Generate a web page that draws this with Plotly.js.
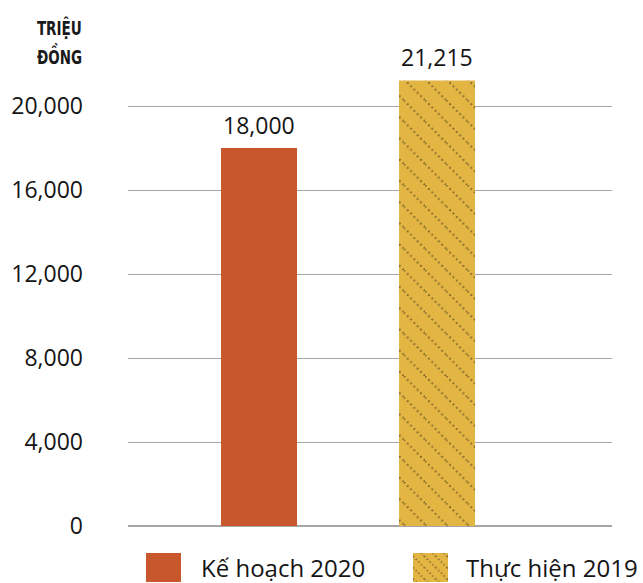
<!DOCTYPE html>
<html>
<head>
<meta charset="utf-8">
<script src="https://cdn.plot.ly/plotly-3.0.1.min.js"></script>
<style>html,body{margin:0;padding:0;background:#fff;}</style>
</head>
<body>
<div id="chart" style="width:643px;height:583px;"></div>
<script>
const seriesNames = ["Kế hoạch 2020", "Thực hiện 2019"];
const seriesValues = [18000, 21215];
const valueLabels = ["18,000", "21,215"];
const tickValues = [0, 4000, 8000, 12000, 16000, 20000];
const tickLabels = ["0", "4,000", "8,000", "12,000", "16,000", "20,000"];
const axisTitleLines = ["TRIỆU", "ĐỒNG"];
const colors = ["#c9572c", "#e3b543"];

const FONT = "'Open Sans', 'Noto Sans', sans-serif";
const TITLE_FONT = "'DejaVu Sans Condensed', 'Liberation Sans Narrow', 'DejaVu Sans', sans-serif";

const traces = seriesNames.map((name, i) => ({
  type: "bar",
  name: name,
  x: [i],
  y: [seriesValues[i]],
  width: 0.427,
  marker: i === 0
    ? {color: colors[i], line: {width: 0}}
    : {color: colors[i], line: {width: 0},
       pattern: {shape: "\\", fgcolor: "#111111", bgcolor: colors[i], size: 15, solidity: 0.12, fillmode: "overlay"}},
  hoverinfo: "skip"
}));

const valueAnnotations = seriesValues.map((v, i) => ({
  xref: "x", yref: "y", x: i, y: v, xanchor: "center", yanchor: "bottom", yshift: 5,
  text: valueLabels[i], showarrow: false,
  font: {family: FONT, size: 23, color: "#151515"}
}));

const titleAnnotations = axisTitleLines.map((t, j) => ({
  xref: "paper", yref: "paper", x: -0.2045, y: [1.116, 1.053][j], xanchor: "left", yanchor: "middle",
  text: "<b>" + t + "</b>", showarrow: false,
  font: {family: TITLE_FONT, size: 19, color: "#1a1a1a"}
}));

const layout = {
  width: 643, height: 583,
  margin: {l: 128, r: 31, t: 79, b: 57, autoexpand: false},
  paper_bgcolor: "#fff", plot_bgcolor: "#fff",
  barmode: "overlay",
  showlegend: true,
  legend: {orientation: "h", x: 0.0, xanchor: "left", y: -0.06, yanchor: "top",
           font: {family: FONT, size: 24, color: "#151515"}, itemwidth: 40, tracegroupgap: 0},
  xaxis: {range: [-0.736, 1.983], showticklabels: false, showgrid: false, zeroline: false, showline: false, ticks: ""},
  yaxis: {range: [0, 21286], tickvals: tickValues, ticktext: tickLabels,
          showgrid: true, gridcolor: "#a6a6a6", gridwidth: 1,
          zeroline: true, zerolinecolor: "#a6a6a6", zerolinewidth: 2,
          showline: false, ticks: "", ticklabelstandoff: 44,
          tickfont: {family: FONT, size: 23, color: "#151515"}},
  annotations: valueAnnotations.concat(titleAnnotations)
};

Plotly.newPlot("chart", traces, layout, {displayModeBar: false, staticPlot: true}).then(gd => {
  // dotted diagonal hatch like the reference
  document.querySelectorAll("pattern path").forEach(p => {
    p.style.strokeDasharray = "1.7 3";
    p.style.strokeWidth = "1.9px";
  });
  // condensed axis title: squeeze each line to the reference width
  gd.querySelectorAll("g.annotation text.annotation-text").forEach(t => {
    const s = t.textContent;
    if (axisTitleLines.indexOf(s) >= 0) {
      const w = t.getComputedTextLength();
      const target = 45;
      if (w > target) {
        t.setAttribute("textLength", target);
        t.setAttribute("lengthAdjust", "spacingAndGlyphs");
        t.querySelectorAll("tspan").forEach(ts => {
          ts.setAttribute("textLength", target);
          ts.setAttribute("lengthAdjust", "spacingAndGlyphs");
        });
      }
    }
  });
  // enlarge legend swatches and place entries like the reference
  const legend = gd.querySelector("g.legend");
  if (!legend) return;
  const sb = legend.querySelector(".scrollbox");
  if (sb) sb.removeAttribute("clip-path");
  const m = /translate\(([-\d.]+)[ ,]+([-\d.]+)\)/.exec(legend.getAttribute("transform") || "");
  const lx = m ? parseFloat(m[1]) : 0, ly = m ? parseFloat(m[2]) : 0;
  const swatchLeft = [146, 413], textLeft = [201, 466], cy = 567.5;
  legend.querySelectorAll("g.traces").forEach((g, i) => {
    g.setAttribute("transform", `translate(${swatchLeft[i] - lx},${cy - ly})`);
    const p = g.querySelector(".legendpoints path");
    if (p) {
      p.setAttribute("d", "M0,-14.5H35V14.5H0Z");
      p.setAttribute("transform", "translate(0,0)");
    }
    const t = g.querySelector("text.legendtext");
    if (t) t.setAttribute("x", textLeft[i] - swatchLeft[i]);
    const bg = g.querySelector("rect.legendtoggle");
    if (bg) bg.remove();
  });
  const bgr = legend.querySelector("rect.bg");
  if (bgr) bgr.remove();
});
</script>
</body>
</html>
